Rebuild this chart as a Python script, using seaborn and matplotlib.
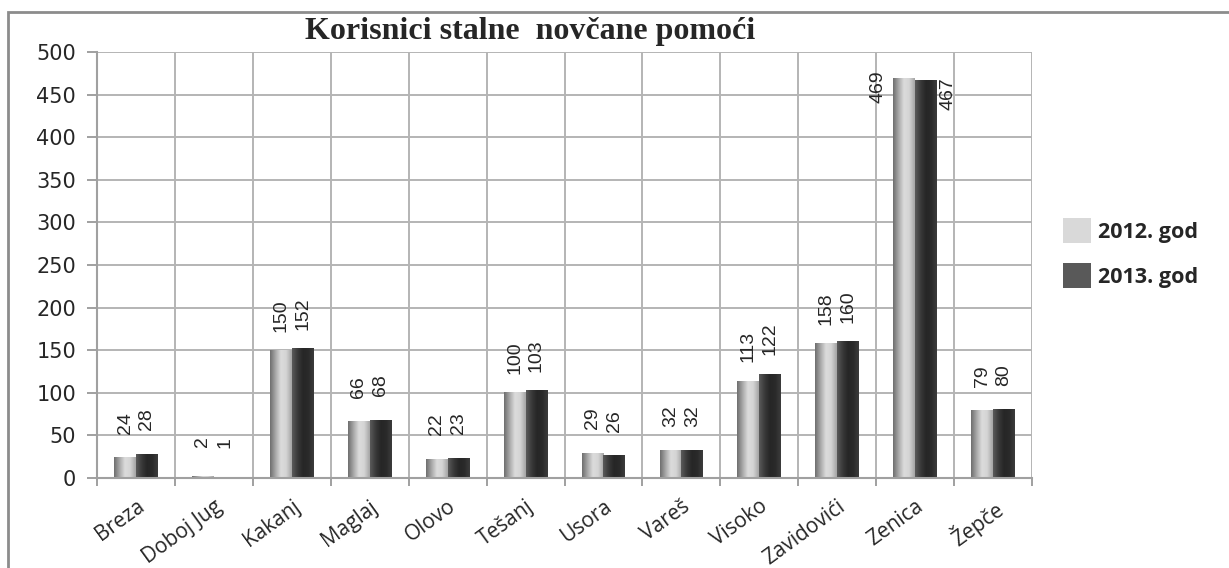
import numpy as np
import pandas as pd
import matplotlib
matplotlib.use('Agg')
import matplotlib.pyplot as plt
import seaborn as sns
from matplotlib.patches import Patch, Rectangle
from matplotlib.colors import LinearSegmentedColormap

# data
cities = ['Breza', 'Doboj Jug', 'Kakanj', 'Maglaj', 'Olovo', 'Tešanj', 'Usora',
          'Vareš', 'Visoko', 'Zavidovići', 'Zenica', 'Žepče']
god_2012 = [24, 2, 150, 66, 22, 100, 29, 32, 113, 158, 469, 79]
god_2013 = [28, 1, 152, 68, 23, 103, 26, 32, 122, 160, 467, 80]
series_names = ['2012. god', '2013. god']

df = pd.DataFrame({
    'grad': cities * 2,
    'korisnici': god_2012 + god_2013,
    'godina': [series_names[0]] * len(cities) + [series_names[1]] * len(cities),
})

sns.set_style('white')
plt.rcParams['font.family'] = ['DejaVu Sans']

fig = plt.figure(figsize=(12.29, 5.68), dpi=100)
ax = fig.add_axes([97 / 1229, 1 - 478 / 568, (1032 - 97) / 1229, (478 - 52) / 568])

sns.barplot(data=df, x='grad', y='korisnici', hue='godina', hue_order=series_names,
            palette=['#c8c8c8', '#303030'], width=0.56, ax=ax, legend=False,
            linewidth=0, saturation=1)

# cylinder-like shading on each bar
cmaps = [
    LinearSegmentedColormap.from_list('g', ['#6e6e6e', '#a8a8a8', '#dcdcdc', '#d4d4d4', '#a4a4a4']),
    LinearSegmentedColormap.from_list('d', ['#5a5a5a', '#3a3a3a', '#262626', '#2a2a2a', '#3c3c3c']),
]
grad = np.linspace(0, 1, 64).reshape(1, -1)
for cont, cm in zip(ax.containers, cmaps):
    for bar in cont:
        x0, w, h = bar.get_x(), bar.get_width(), bar.get_height()
        bar.set_alpha(0)
        ax.imshow(grad, cmap=cm, aspect='auto', extent=(x0, x0 + w, 0, h),
                  zorder=2, interpolation='bicubic')

# value labels
lab_font = ['Liberation Sans Narrow', 'Liberation Sans', 'DejaVu Sans']
for k, cont in enumerate(ax.containers):
    for bar in cont:
        x0, w, h = bar.get_x(), bar.get_width(), bar.get_height()
        txt = f'{int(round(h))}'
        if h + 45 > 490:
            if k == 0:
                ax.text(x0 - 0.2, h - 10, txt, rotation=90, ha='center', va='center',
                        fontsize=14, family=lab_font, zorder=4)
            else:
                ax.text(x0 + w + 0.14, h - 16, txt, rotation=90, ha='center', va='center',
                        fontsize=14, family=lab_font, zorder=4)
        else:
            ax.text(x0 + w / 2, h + 41, txt, rotation=90, ha='center', va='center',
                    fontsize=14, family=lab_font, zorder=4)

ax.set_xlim(-0.5, len(cities) - 0.5)
ax.set_ylim(0, 500)
ax.set_yticks(np.arange(0, 501, 50))
ax.set_xticks(np.arange(-0.5, len(cities), 1.0), minor=True)
ax.grid(False)
ax.grid(True, axis='y', which='major', color='#b4b4b4', linewidth=1.4, zorder=0)
ax.grid(True, axis='x', which='minor', color='#b4b4b4', linewidth=1.4, zorder=0)
ax.set_axisbelow(True)

for s in ['top', 'right']:
    ax.spines[s].set_visible(False)
for s in ['left', 'bottom']:
    ax.spines[s].set_color('#a0a0a0')
    ax.spines[s].set_linewidth(1.5)

ax.tick_params(axis='y', which='major', left=True, length=7, width=1.4, color='#a0a0a0',
               labelsize=15, pad=8)
ax.tick_params(axis='x', which='major', bottom=False, length=0, labelsize=15, pad=13)
ax.tick_params(axis='x', which='minor', bottom=True, length=6, width=1.4, color='#a0a0a0')
ax.set_xticks(range(len(cities)))
ax.set_xticklabels(cities, rotation=36, ha='right', va='top', rotation_mode='anchor',
                   family=['Open Sans', 'DejaVu Sans'])
ax.set_xlabel('')
ax.set_ylabel('')

fig.text(530 / 1229, 1 - 31 / 568, 'Korisnici stalne  novčane pomoći', ha='center', va='center',
         fontsize=23, fontweight='bold', family=['Liberation Serif', 'DejaVu Serif'])

# legend
handles = [Patch(facecolor='#d9d9d9', edgecolor='none'), Patch(facecolor='#595959', edgecolor='none')]
fig.legend(handles, series_names, loc='center left', bbox_to_anchor=(1044 / 1229, 1 - 253 / 568),
           frameon=False, handlelength=1.3, handleheight=1.45, labelspacing=0.9, handletextpad=0.3,
           prop={'family': ['Open Sans', 'DejaVu Sans'], 'weight': 'bold', 'size': 15.5})

# outer chart border
fig.patches.append(Rectangle((8 / 1229, -0.05), 1.1, 1 - 12 / 568 + 0.05, transform=fig.transFigure,
                             fill=False, edgecolor='#8c8c8c', linewidth=2, zorder=0))

fig.savefig('out.png', dpi=100)
